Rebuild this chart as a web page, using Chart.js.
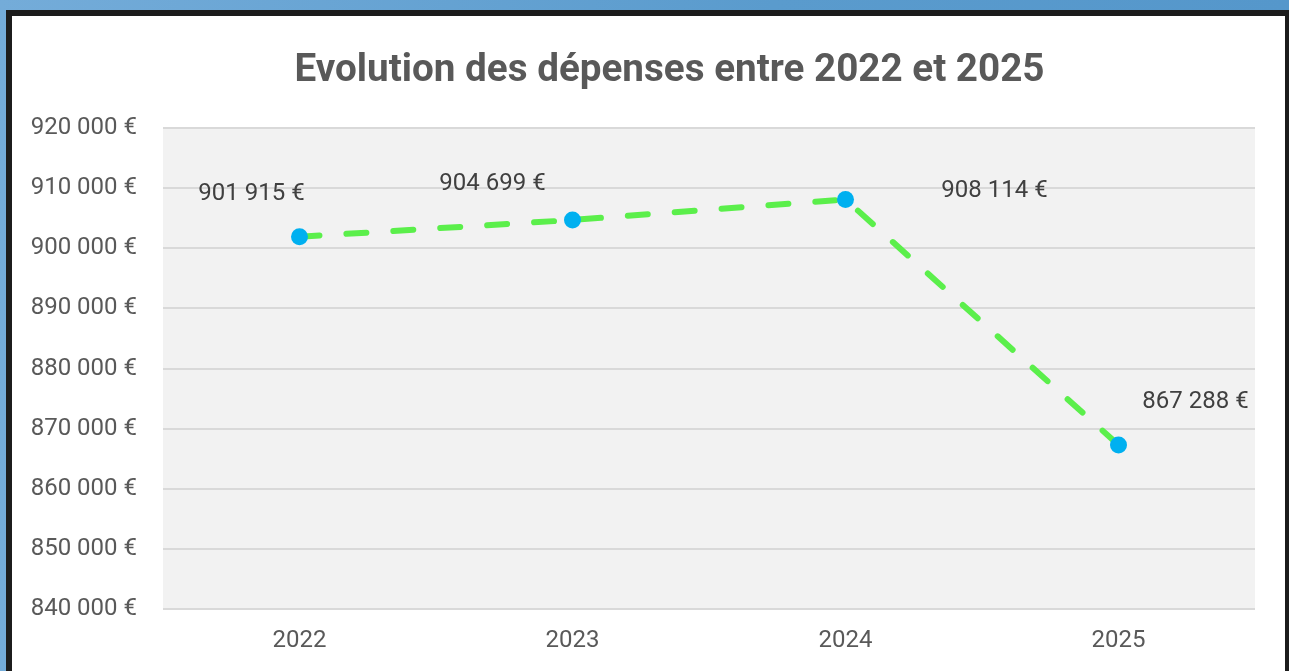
<!DOCTYPE html>
<html lang="fr">
<head>
<meta charset="utf-8">
<title>Evolution des dépenses</title>
<script src="https://cdn.jsdelivr.net/npm/chart.js@4.4.1/dist/chart.umd.min.js"></script>
<style>
  html, body { margin: 0; padding: 0; overflow: hidden; }
  body {
    width: 1289px;
    height: 671px;
    background: linear-gradient(to right, #74acd9, #5a9bcd 60%, #5597cb);
    position: relative;
  }
  #frame {
    position: absolute;
    left: 6px;
    top: 10px;
    width: 1273px;
    height: 680px;
    border: 6px solid #1c1c1c;
    background: #ffffff;
  }
  #chart { display: block; }
</style>
</head>
<body>
<div id="frame">
  <canvas id="chart" width="1273" height="655"></canvas>
</div>
<script>
  // Data
  const years = ['2022', '2023', '2024', '2025'];
  const expenses = [901915, 904699, 908114, 867288];
  const yMin = 840000;
  const yMax = 920000;
  const yStep = 10000;
  const chartTitle = 'Evolution des dépenses entre 2022 et 2025';

  // Label offsets relative to each point (px)
  const labelOffsets = [[-48, -43], [-80, -36], [149, -8], [77, -43]];

  function euro(v) {
    return Math.round(v).toString().replace(/\B(?=(\d{3})+(?!\d))/g, ' ') + ' €';
  }

  // Grey plot background
  const plotBg = {
    id: 'plotBg',
    beforeDraw(chart) {
      const { ctx, chartArea: a } = chart;
      ctx.save();
      ctx.fillStyle = '#f2f2f2';
      ctx.fillRect(a.left, a.top, a.right - a.left, a.bottom - a.top);
      ctx.restore();
    }
  };

  // Condensed bold title
  const condensedTitle = {
    id: 'condensedTitle',
    afterDraw(chart) {
      const ctx = chart.ctx;
      ctx.save();
      ctx.font = 'bold 38px Roboto';
      ctx.fillStyle = '#595959';
      ctx.textAlign = 'center';
      ctx.textBaseline = 'middle';
      const w = ctx.measureText(chartTitle).width;
      const sx = 750 / w;
      const cx = chart.width / 2 + 21;
      ctx.translate(cx, 55);
      ctx.scale(sx, 1);
      ctx.fillText(chartTitle, 0, 0);
      ctx.restore();
    }
  };

  // Value labels next to the points
  const valueLabels = {
    id: 'valueLabels',
    afterDatasetsDraw(chart) {
      const ctx = chart.ctx;
      const meta = chart.getDatasetMeta(0);
      ctx.save();
      ctx.font = '24px Roboto';
      ctx.fillStyle = '#404040';
      ctx.textAlign = 'center';
      ctx.textBaseline = 'middle';
      meta.data.forEach((pt, i) => {
        const off = labelOffsets[i];
        ctx.fillText(euro(expenses[i]), pt.x + off[0], pt.y + off[1]);
      });
      ctx.restore();
    }
  };

  new Chart(document.getElementById('chart'), {
    type: 'line',
    data: {
      labels: years,
      datasets: [{
        data: expenses,
        borderColor: '#5bef4b',
        borderWidth: 6,
        borderDash: [20, 27],
        borderCapStyle: 'round',
        tension: 0,
        pointRadius: 8.5,
        pointBackgroundColor: '#00b0f0',
        pointBorderWidth: 0,
        fill: false
      }]
    },
    options: {
      responsive: false,
      animation: false,
      layout: { padding: { top: 112, right: 30, bottom: 0, left: 0 } },
      plugins: {
        legend: { display: false },
        title: { display: false },
        tooltip: { enabled: false }
      },
      scales: {
        x: {
          offset: true,
          grid: { display: false, drawTicks: false },
          border: { display: false },
          ticks: { color: '#595959', font: { size: 24, family: 'Roboto' }, padding: 18 },
          afterFit(s) { s.height = 62; }
        },
        y: {
          min: yMin,
          max: yMax,
          grid: { color: '#d9d9d9', lineWidth: 2, drawTicks: false },
          border: { display: false },
          ticks: {
            stepSize: yStep,
            color: '#595959',
            font: { size: 24, family: 'Roboto' },
            padding: 26,
            callback: v => euro(v)
          },
          afterFit(s) { s.width = 151; }
        }
      }
    },
    plugins: [plotBg, condensedTitle, valueLabels]
  });
</script>
</body>
</html>
